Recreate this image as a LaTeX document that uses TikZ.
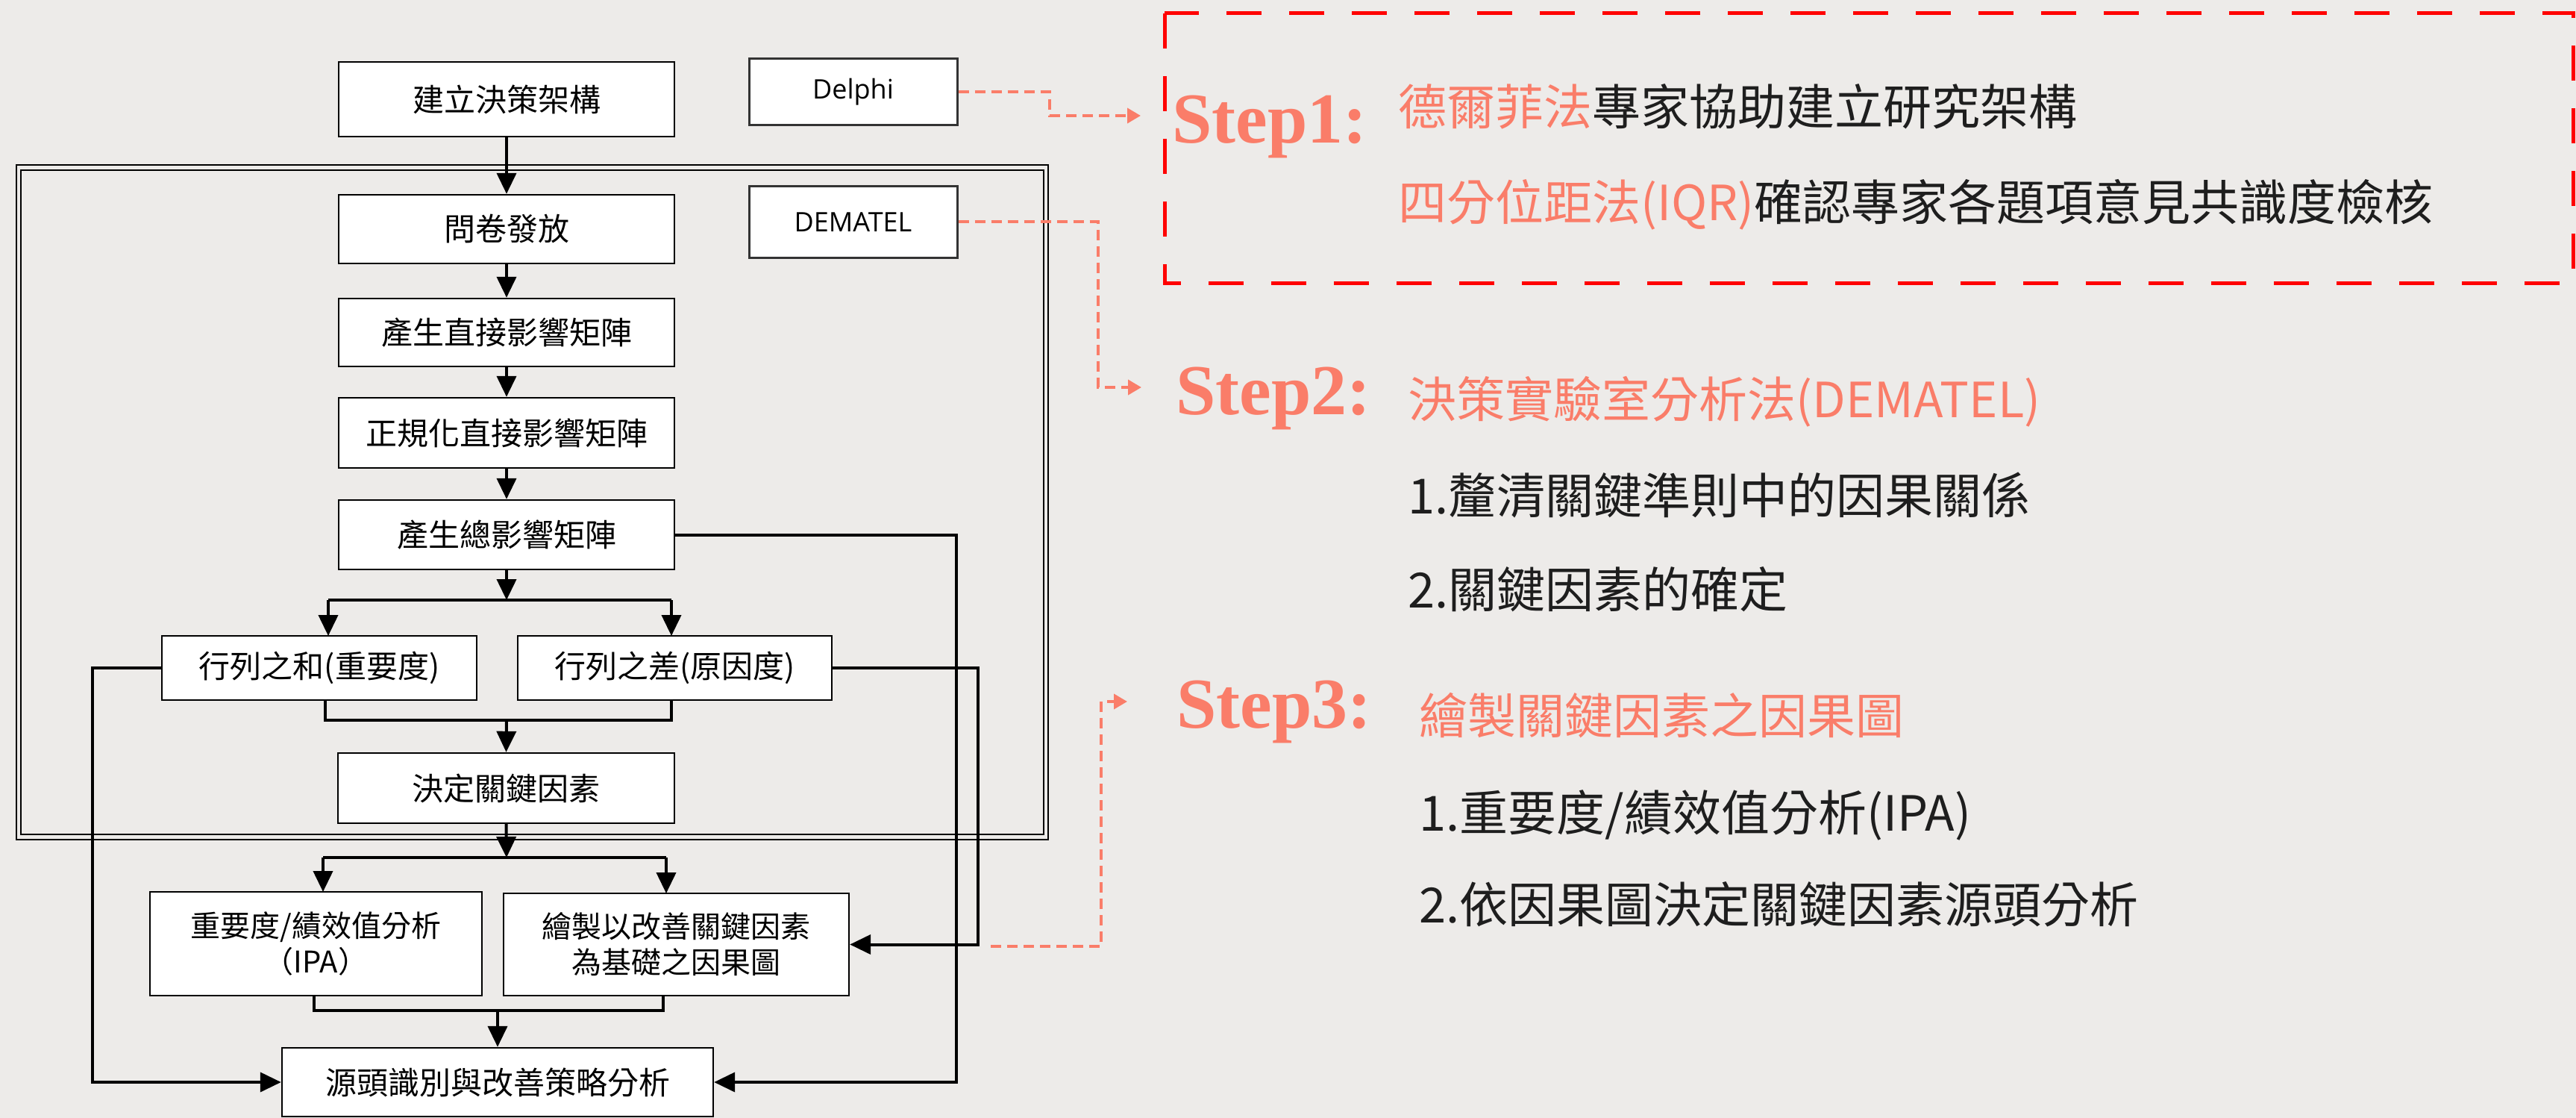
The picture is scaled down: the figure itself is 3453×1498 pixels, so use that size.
\documentclass[tikz,border=0pt]{standalone}
\usepackage{fontspec}
\setmainfont{Liberation Serif}
\newfontfamily\cjk{Noto Sans CJK TC}
\newfontfamily\lat{Open Sans}
\usetikzlibrary{arrows.meta}
\definecolor{bg}{RGB}{237,235,233}
\definecolor{salmon}{RGB}{250,125,105}
\definecolor{txt}{RGB}{30,30,30}
\tikzset{
  box/.style={draw=black, line width=1.2pt, fill=white, inner sep=0pt, align=center,
    font=\cjk\fontsize{21}{25}\selectfont},
  latbox/.style={draw=black!80, line width=1.5pt, fill=white, inner sep=0pt,
    font=\lat\fontsize{18}{20}\selectfont, minimum width=139.5pt},
  arr/.style={line width=2pt, -{Triangle[width=13pt,length=14pt]}},
  ln/.style={line width=2pt},
  odash/.style={draw=salmon, line width=2pt, dash pattern=on 7pt off 4pt},
  oarr/.style={odash, -{Triangle[width=10pt,length=9pt,fill=salmon]}},
  rtxt/.style={anchor=base west, inner sep=0pt, text=txt, font=\cjk\fontsize{32.5}{36}\selectfont},
  steplbl/.style={anchor=base west, inner sep=0pt, text=salmon, font=\bfseries\fontsize{48}{50}\selectfont},
}
\begin{document}
\begin{tikzpicture}[x=0.5pt,y=-0.5pt]
\fill[bg] (0,0) rectangle (3453,1498);
\useasboundingbox (0,0) rectangle (3453,1498);

% outer double frame
\draw[line width=1pt] (22,221) rectangle (1405,1125);
\draw[line width=1pt] (28,228) rectangle (1399,1118);

% boxes
\node[box, minimum width=225pt, minimum height=50pt] (b0) at (679,133) {建立決策架構};
\node[box, minimum width=225pt, minimum height=46pt] (b1) at (679,307) {問卷發放};
\node[box, minimum width=225pt, minimum height=45.5pt] (b2) at (679,445.5) {產生直接影響矩陣};
\node[box, minimum width=225pt, minimum height=47pt] (b3) at (679,580) {正規化直接影響矩陣};
\node[box, minimum width=225pt, minimum height=46.5pt] (b4) at (679,716.5) {產生總影響矩陣};
\node[box, minimum width=211pt, minimum height=43pt] (b5l) at (428,895) {行列之和(重要度)};
\node[box, minimum width=210.5pt, minimum height=43pt] (b5r) at (904.5,895) {行列之差(原因度)};
\node[box, minimum width=225.5pt, minimum height=47pt] (b6) at (678.5,1056) {決定關鍵因素};
\node[box, minimum width=222.5pt, minimum height=69.5pt, font=\cjk\fontsize{20}{24}\selectfont] (b7l) at (423.5,1264.5) {重要度/績效值分析\\（IPA）};
\node[box, minimum width=231.5pt, minimum height=68.5pt, font=\cjk\fontsize{20}{24}\selectfont] (b7r) at (906.5,1265.5) {繪製以改善關鍵因素\\為基礎之因果圖};
\node[box, minimum width=289pt, minimum height=46pt] (b8) at (667,1450) {源頭識別與改善策略分析};

\node[latbox, minimum height=44.5pt] (delphi) at (1143.5,123.5) {Delphi};
\node[latbox, minimum height=47.5pt] (dem) at (1143.5,297.5) {DEMATEL};

% main flow
\draw[arr] (b0.south) -- (b1.north);
\draw[arr] (b1.south) -- (b2.north);
\draw[arr] (b2.south) -- (b3.north);
\draw[arr] (b3.south) -- (b4.north);

\coordinate (j1) at (679,804);
\draw[arr] (b4.south) -- (j1);
\draw[ln] (440,804) -- (900,804);
\draw[arr] (440,804) -- (440,852);
\draw[arr] (900,804) -- (900,852);

\coordinate (j2) at (679,965);
\draw[ln] (436,938) -- (436,965) -- (900,965) -- (900,938);
\draw[arr] (j2) -- (b6.north);

\coordinate (j3) at (679,1149);
\draw[arr] (b6.south) -- (j3);
\draw[ln] (433,1149) -- (893,1149);
\draw[arr] (433,1149) -- (433,1195);
\draw[arr] (893,1149) -- (893,1197);

\coordinate (j4) at (667,1354);
\draw[ln] (421,1334) -- (421,1354) -- (889,1354) -- (889,1334);
\draw[arr] (j4) -- (b8.north);

% side connectors
\draw[arr] (b4.east) -| ([xshift=162.5pt]b8.east) -- (b8.east);
\draw[arr] (b5r.east) -| ([xshift=86pt]b7r.east) -- (b7r.east);
\draw[arr] (b5l.west) -| ([xshift=-126.5pt]b8.west) -- (b8.west);

% red dashed box
\draw[red, line width=2.5pt, dash pattern=on 23.5pt off 18.5pt] (1561,18) rectangle (3449,379);

% orange dashed connectors
\coordinate (s1) at (1529,155);
\coordinate (s2) at (1530,519);
\coordinate (s3a) at (1328,1268);
\coordinate (s3) at (1511,940);
\draw[oarr] (delphi.east) -- (1407,123.5) -- (1407,155) -- (s1);
\draw[oarr] (dem.east) -- (1472,297.5) -- (1472,519) -- (s2);
\draw[oarr] (s3a) -- (1476,1268) -- (1476,940) -- (s3);

% Step 1
\node[steplbl] (st1) at (1571,192) {Step1:};
\node[rtxt] (t11) at (1874,168) {\textcolor{salmon}{德爾菲法}專家協助建立研究架構};
\node[rtxt] (t12) at (1874,296) {\textcolor{salmon}{四分位距法(IQR)}確認專家各題項意見共識度檢核};

% Step 2
\node[steplbl] (st2) at (1576,555) {Step2:};
\node[rtxt, text=salmon] (t21) at (1887,559) {決策實驗室分析法(DEMATEL)};
\node[rtxt] (t22) at (1887,688) {1.釐清關鍵準則中的因果關係};
\node[rtxt] (t23) at (1887,814) {2.關鍵因素的確定};

% Step 3
\node[steplbl] (st3) at (1577,975) {Step3:};
\node[rtxt, text=salmon] (t31) at (1902,983) {繪製關鍵因素之因果圖};
\node[rtxt] (t32) at (1902,1113) {1.重要度/績效值分析(IPA)};
\node[rtxt] (t33) at (1902,1236) {2.依因果圖決定關鍵因素源頭分析};
\end{tikzpicture}
\end{document}
